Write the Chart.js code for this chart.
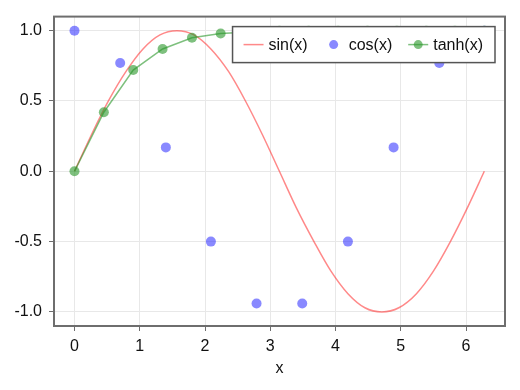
<!DOCTYPE html>
<html lang="en">
<head>
    <meta charset="UTF-8">
    <title>sin, cos, tanh</title>
    <script src="https://cdn.jsdelivr.net/npm/chart.js"></script>
    <style>
        html, body { margin: 0; padding: 0; background: #fff; }
        #wrap { width: 520px; height: 390px; }
    </style>
</head>
<body>
    <div id="wrap"><canvas id="chart"></canvas></div>
    <script>
        // values
        const sinX = [0, 0.26, 0.52, 0.79, 1.05, 1.31, 1.57, 1.83, 2.09, 2.36, 2.62, 2.88, 3.14,
                      3.40, 3.67, 3.93, 4.19, 4.45, 4.71, 4.97, 5.24, 5.50, 5.76, 6.02, 6.28];
        const sinY = [0, 0.26, 0.5, 0.71, 0.87, 0.97, 1, 0.97, 0.87, 0.71, 0.5, 0.26, 0,
                      -0.26, -0.5, -0.71, -0.87, -0.97, -1, -0.97, -0.87, -0.71, -0.5, -0.26, 0];
        const cosX = [0, 0.70, 1.40, 2.09, 2.79, 3.49, 4.19, 4.89, 5.59, 6.28];
        const cosY = [1, 0.77, 0.17, -0.5, -0.94, -0.94, -0.5, 0.17, 0.77, 1];
        const tanhX = [0, 0.45, 0.90, 1.35, 1.80, 2.24, 2.69, 3.14, 3.59, 4.04, 4.49, 4.94, 5.39, 5.83, 6.28];
        const tanhY = [0, 0.42, 0.72, 0.87, 0.95, 0.98, 0.99, 1, 1, 1, 1, 1, 1, 1, 1];
        const xTicks = [0, 1, 2, 3, 4, 5, 6];
        const yTicks = [-1, -0.5, 0, 0.5, 1];

        const pts = (xs, ys) => xs.map((x, i) => ({ x: x, y: ys[i] }));

        const FONT = '"Liberation Sans", Arial, sans-serif';
        const AXIS = '#6e6e6e';
        const GRID = '#e8e8e8';

        // frame + legend drawn inside the plot area
        const framePlugin = {
            id: 'frame',
            afterDatasetsDraw(chart) {
                const { ctx, chartArea: a } = chart;
                ctx.save();
                ctx.strokeStyle = AXIS;
                ctx.lineWidth = 2;
                ctx.strokeRect(a.left, a.top, a.right - a.left, a.bottom - a.top);

                // legend
                ctx.font = '16px ' + FONT;
                ctx.textBaseline = 'middle';
                const items = chart.data.datasets.slice().sort((p, q) => p.legendIdx - q.legendIdx);
                const boxR = a.right - 10, boxT = a.top + 10, boxH = 36;
                let w = 11;
                items.forEach(d => { w += 25 + ctx.measureText(d.label).width + 16; });
                w = w - 16 + 12;
                const boxL = boxR - w;
                ctx.fillStyle = '#fff';
                ctx.fillRect(boxL, boxT, w, boxH);
                ctx.strokeStyle = '#555';
                ctx.lineWidth = 1.5;
                ctx.strokeRect(boxL, boxT, w, boxH);
                let x = boxL + 11;
                const cy = boxT + boxH / 2;
                items.forEach(d => {
                    if (d.showLine !== false) {
                        ctx.strokeStyle = d.borderColor;
                        ctx.lineWidth = 1.5;
                        ctx.beginPath();
                        ctx.moveTo(x, cy); ctx.lineTo(x + 20, cy);
                        ctx.stroke();
                    }
                    if (d.pointRadius > 0) {
                        ctx.fillStyle = d.pointBackgroundColor;
                        ctx.beginPath();
                        ctx.arc(x + 10, cy, 4.5, 0, Math.PI * 2);
                        ctx.fill();
                    }
                    x += 25;
                    ctx.fillStyle = '#111';
                    ctx.fillText(d.label, x, cy + 1);
                    x += ctx.measureText(d.label).width + 16;
                });
                ctx.restore();
            }
        };

        new Chart(document.getElementById('chart'), {
            type: 'scatter',
            data: {
                datasets: [
                    {
                        label: 'sin(x)', legendIdx: 0, order: 2,
                        data: pts(sinX, sinY),
                        showLine: true, cubicInterpolationMode: 'monotone',
                        borderColor: 'rgba(255, 40, 40, 0.55)', borderWidth: 1.5,
                        pointRadius: 0, pointBackgroundColor: 'transparent'
                    },
                    {
                        label: 'cos(x)', legendIdx: 1, order: 1,
                        data: pts(cosX, cosY),
                        showLine: false,
                        pointRadius: 5, pointBorderWidth: 0,
                        pointBackgroundColor: 'rgba(40, 40, 255, 0.55)',
                        borderColor: 'rgba(40, 40, 255, 0.55)'
                    },
                    {
                        label: 'tanh(x)', legendIdx: 2, order: 0,
                        data: pts(tanhX, tanhY),
                        showLine: true, borderWidth: 1.5,
                        borderColor: 'rgba(40, 150, 40, 0.6)',
                        pointRadius: 5, pointBorderWidth: 0,
                        pointBackgroundColor: 'rgba(40, 150, 40, 0.6)'
                    }
                ]
            },
            options: {
                responsive: true,
                maintainAspectRatio: false,
                animation: false,
                layout: { padding: { left: 0, right: 15, top: 16, bottom: 0 } },
                plugins: { legend: { display: false }, tooltip: { enabled: false } },
                scales: {
                    x: {
                        type: 'linear', min: -0.314, max: 6.597,
                        afterBuildTicks: axis => { axis.ticks = xTicks.map(v => ({ value: v })); },
                        afterFit: axis => { axis.height = 64; },
                        ticks: { font: { family: FONT, size: 16 }, color: '#111', padding: 6, maxRotation: 0 },
                        grid: { color: GRID, tickColor: AXIS, tickLength: 5, lineWidth: 1 },
                        border: { color: AXIS, width: 2 },
                        title: { display: true, text: 'x', font: { family: FONT, size: 16 }, color: '#111', padding: { top: 0, bottom: 12 } }
                    },
                    y: {
                        type: 'linear', min: -1.1, max: 1.1,
                        afterBuildTicks: axis => { axis.ticks = yTicks.map(v => ({ value: v })); },
                        afterFit: axis => { axis.width = 54; },
                        ticks: { font: { family: FONT, size: 16 }, color: '#111', padding: 7, callback: v => v.toFixed(1) },
                        grid: { color: GRID, tickColor: AXIS, tickLength: 5, lineWidth: 1 },
                        border: { color: AXIS, width: 2 }
                    }
                }
            },
            plugins: [framePlugin]
        });
    </script>
</body>
</html>
